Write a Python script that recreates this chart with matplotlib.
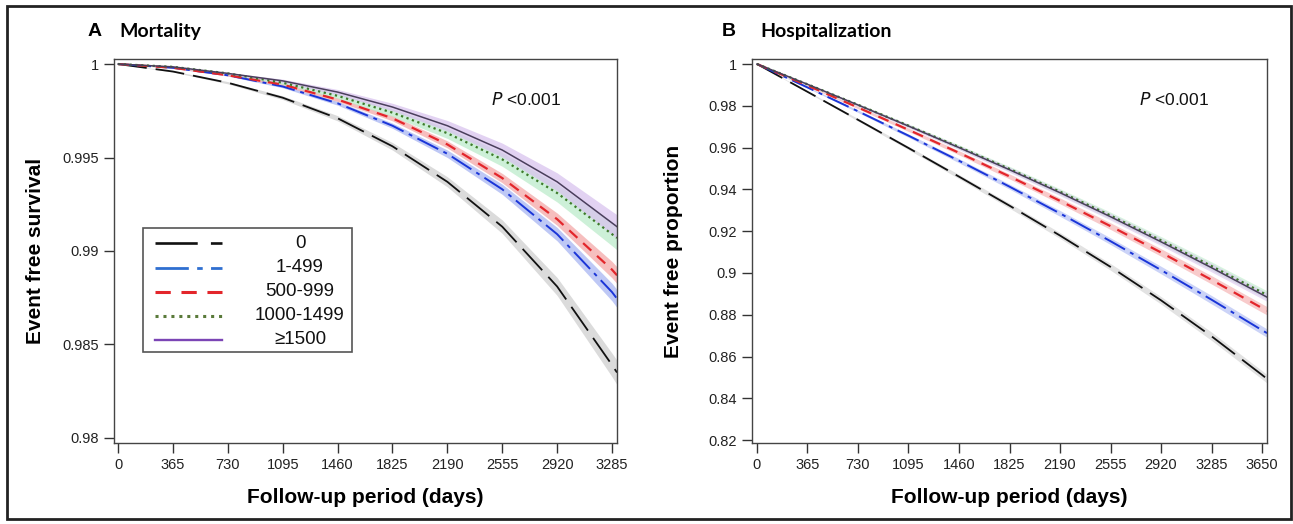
import matplotlib
matplotlib.use("Agg")
import matplotlib.pyplot as plt
from matplotlib.patches import Rectangle
from matplotlib.lines import Line2D
import numpy as np

plt.rcParams['font.family'] = ['Liberation Sans', 'DejaVu Sans']

# ---------------- data ----------------
groups = ["0", "1-499", "500-999", "1000-1499", "\u22651500"]

days_a = [0, 365, 730, 1095, 1460, 1825, 2190, 2555, 2920, 3285, 3318]
mort_0 = [1, 0.9996, 0.9990, 0.9982, 0.9971, 0.9956, 0.9937, 0.9913, 0.9881, 0.9839, 0.9835]
mort_1 = [1, 0.9998, 0.9994, 0.9988, 0.9979, 0.9967, 0.9952, 0.9933, 0.9909, 0.9878, 0.98745]
mort_2 = [1, 0.9998, 0.9994, 0.9989, 0.9981, 0.9971, 0.9957, 0.9939, 0.9917, 0.9890, 0.9887]
mort_3 = [1, 0.99985, 0.9995, 0.9990, 0.9983, 0.9974, 0.9963, 0.9949, 0.9931, 0.9909, 0.9907]
mort_4 = [1, 0.99985, 0.9995, 0.9991, 0.9985, 0.9977, 0.9967, 0.9954, 0.9937, 0.9915, 0.9913]
mort_ci_0 = [0, 0.00003, 0.00006, 0.0001, 0.00014, 0.0002, 0.00027, 0.00036, 0.00048, 0.00063, 0.00065]
mort_ci_1 = [0, 0.00002, 0.00004, 0.00007, 0.0001, 0.00014, 0.0002, 0.00027, 0.00036, 0.00047, 0.00048]
mort_ci_2 = [0, 0.00002, 0.00004, 0.00007, 0.0001, 0.00014, 0.00019, 0.00025, 0.00033, 0.00044, 0.00045]
mort_ci_3 = [0, 0.00002, 0.00005, 0.00009, 0.00014, 0.0002, 0.00028, 0.00037, 0.00048, 0.00062, 0.00064]
mort_ci_4 = [0, 0.00002, 0.00005, 0.00009, 0.00014, 0.0002, 0.00028, 0.00037, 0.00048, 0.00062, 0.00064]

days_b = [0, 365, 730, 1095, 1460, 1825, 2190, 2555, 2920, 3285, 3650, 3686]
hosp_0 = [1, 0.9867, 0.9733, 0.9598, 0.9461, 0.9322, 0.9179, 0.9029, 0.8869, 0.8697, 0.8512, 0.8493]
hosp_1 = [1, 0.9888, 0.9774, 0.9657, 0.9537, 0.9413, 0.9285, 0.9152, 0.9014, 0.8872, 0.8726, 0.8712]
hosp_2 = [1, 0.9897, 0.9792, 0.9685, 0.9575, 0.9462, 0.9345, 0.9224, 0.9098, 0.8967, 0.8832, 0.8819]
hosp_3 = [1, 0.9903, 0.9805, 0.9705, 0.9603, 0.9498, 0.9389, 0.9275, 0.9156, 0.9033, 0.8907, 0.8894]
hosp_4 = [1, 0.9903, 0.9804, 0.9703, 0.9600, 0.9494, 0.9384, 0.9269, 0.9149, 0.9025, 0.8897, 0.8884]
hosp_ci = [0, 0.0003, 0.0006, 0.0008, 0.001, 0.0012, 0.0014, 0.0016, 0.0018, 0.002, 0.002, 0.002]

xticks_a = [0, 365, 730, 1095, 1460, 1825, 2190, 2555, 2920, 3285]
xticks_b = [0, 365, 730, 1095, 1460, 1825, 2190, 2555, 2920, 3285, 3650]
yticks_a = [0.98, 0.985, 0.99, 0.995, 1]
yticklabels_a = ["0.98", "0.985", "0.99", "0.995", "1"]
yticks_b = [0.82, 0.84, 0.86, 0.88, 0.9, 0.92, 0.94, 0.96, 0.98, 1]
yticklabels_b = ["0.82", "0.84", "0.86", "0.88", "0.9", "0.92", "0.94", "0.96", "0.98", "1"]

# ---------------- styles ----------------
line_colors = ['#111111', '#1a35d8', '#e3262b', '#3d7a2a', '#4a3f5c']
legend_colors = ['#111111', '#2f6fd0', '#e3262b', '#5a7a3a', '#7b45b5']
band_colors = ['#cfcfcf', '#a9b6f2', '#f4a9a9', '#bdeccb', '#d9c3ee']
styles = [(0, (16, 5)), (0, (12, 3, 2, 3)), (0, (5, 3.5)), (0, (1, 1.6)), '-']
widths = [1.3, 1.4, 1.6, 1.6, 1.1]

fig = plt.figure(figsize=(12.93, 5.24), dpi=100)

axA = fig.add_axes([114/1293, 1-443/524, 503/1293, 384/524])
axB = fig.add_axes([752/1293, 1-443/524, 515/1293, 384/524])

mort = [mort_0, mort_1, mort_2, mort_3, mort_4]
mort_ci = [mort_ci_0, mort_ci_1, mort_ci_2, mort_ci_3, mort_ci_4]
hosp = [hosp_0, hosp_1, hosp_2, hosp_3, hosp_4]

da = np.array(days_a)
for i in [0, 1, 2, 3, 4]:
    s = np.array(mort[i]); c = np.array(mort_ci[i])
    axA.fill_between(da, s - c, s + c, color=band_colors[i], alpha=0.75, lw=0)
for i in [0, 1, 2, 3, 4]:
    axA.plot(da, mort[i], color=line_colors[i], ls=styles[i], lw=widths[i])

db = np.array(days_b)
for i in [0, 1, 2, 3, 4]:
    s = np.array(hosp[i]); c = np.array(hosp_ci)
    axB.fill_between(db, s - c, s + c, color=band_colors[i], alpha=0.6, lw=0)
for i in [0, 1, 2, 3, 4]:
    axB.plot(db, hosp[i], color=line_colors[i], ls=styles[i], lw=widths[i])

axA.set_xlim(-27, 3318)
axA.set_ylim(0.97973, 1.00027)
axB.set_xlim(-36, 3686)
axB.set_ylim(0.8186, 1.0024)

for ax, xt, yt, ytl, yl, lx in [(axA, xticks_a, yticks_a, yticklabels_a, "Event free survival", -0.157),
                                (axB, xticks_b, yticks_b, yticklabels_b, "Event free proportion", -0.153)]:
    ax.set_xticks(xt)
    ax.set_xticklabels([str(v) for v in xt])
    ax.set_yticks(yt)
    ax.set_yticklabels(ytl)
    ax.tick_params(direction='out', length=7, width=1, color='#333333',
                   labelsize=10.5, labelcolor='#222222', pad=4)
    for sp in ax.spines.values():
        sp.set_color('#444444'); sp.set_linewidth(1.0)
    ax.set_xlabel("Follow-up period (days)", fontsize=15, fontweight='bold')
    ax.set_ylabel(yl, fontsize=15, fontweight='bold')
    ax.yaxis.set_label_coords(lx, 0.5)
    ax.xaxis.set_label_coords(0.5, -0.141)
    ax.xaxis.label.set_va('center')
    ax.yaxis.label.set_va('center')
    ax.text(0.82, 0.895, "$\\it{P}$ <0.001", transform=ax.transAxes, fontsize=12.5,
            ha='center', va='center', color='#111111')

# titles
fig.text(88/1293, 1-32/524, "A", fontsize=14, fontweight='bold', va='center', family=['Liberation Sans'])
fig.text(119/1293, 1-32/524, "Mortality", fontsize=14, fontweight='bold', va='center', family=['Lato', 'DejaVu Sans'])
fig.text(722/1293, 1-32/524, "B", fontsize=14, fontweight='bold', va='center', family=['Liberation Sans'])
fig.text(760/1293, 1-32/524, "Hospitalization", fontsize=14, fontweight='bold', va='center', family=['Lato', 'DejaVu Sans'])

# manual legend in panel A (axes fraction)
def px2ax(x, y):
    return (x - 114) / 503, (443 - y) / 384

x0, y0 = px2ax(143, 352)
x1, y1 = px2ax(352, 228)
axA.add_patch(Rectangle((x0, y0), x1 - x0, y1 - y0, transform=axA.transAxes,
                        facecolor='white', edgecolor='#555555', lw=1.2, zorder=5))
rows = [243, 268, 292, 316, 340]
for i, lab in enumerate(groups):
    hx0, hy = px2ax(155, rows[i])
    hx1, _ = px2ax(222, rows[i])
    axA.add_line(Line2D([hx0, hx1], [hy, hy], transform=axA.transAxes, color=legend_colors[i],
                        ls=styles[i], lw=widths[i] + 0.6, zorder=6))
    tx, _ = px2ax(300, rows[i])
    axA.text(tx, hy, lab, transform=axA.transAxes, ha='center', va='center',
             fontsize=13.5, color='#111111', zorder=7)

# outer border
fig.add_artist(Rectangle((7/1293, 1-519/524), 1284/1293, 513/524, transform=fig.transFigure,
                         fill=False, edgecolor='#222222', lw=2))

fig.savefig("out.png", dpi=100)
